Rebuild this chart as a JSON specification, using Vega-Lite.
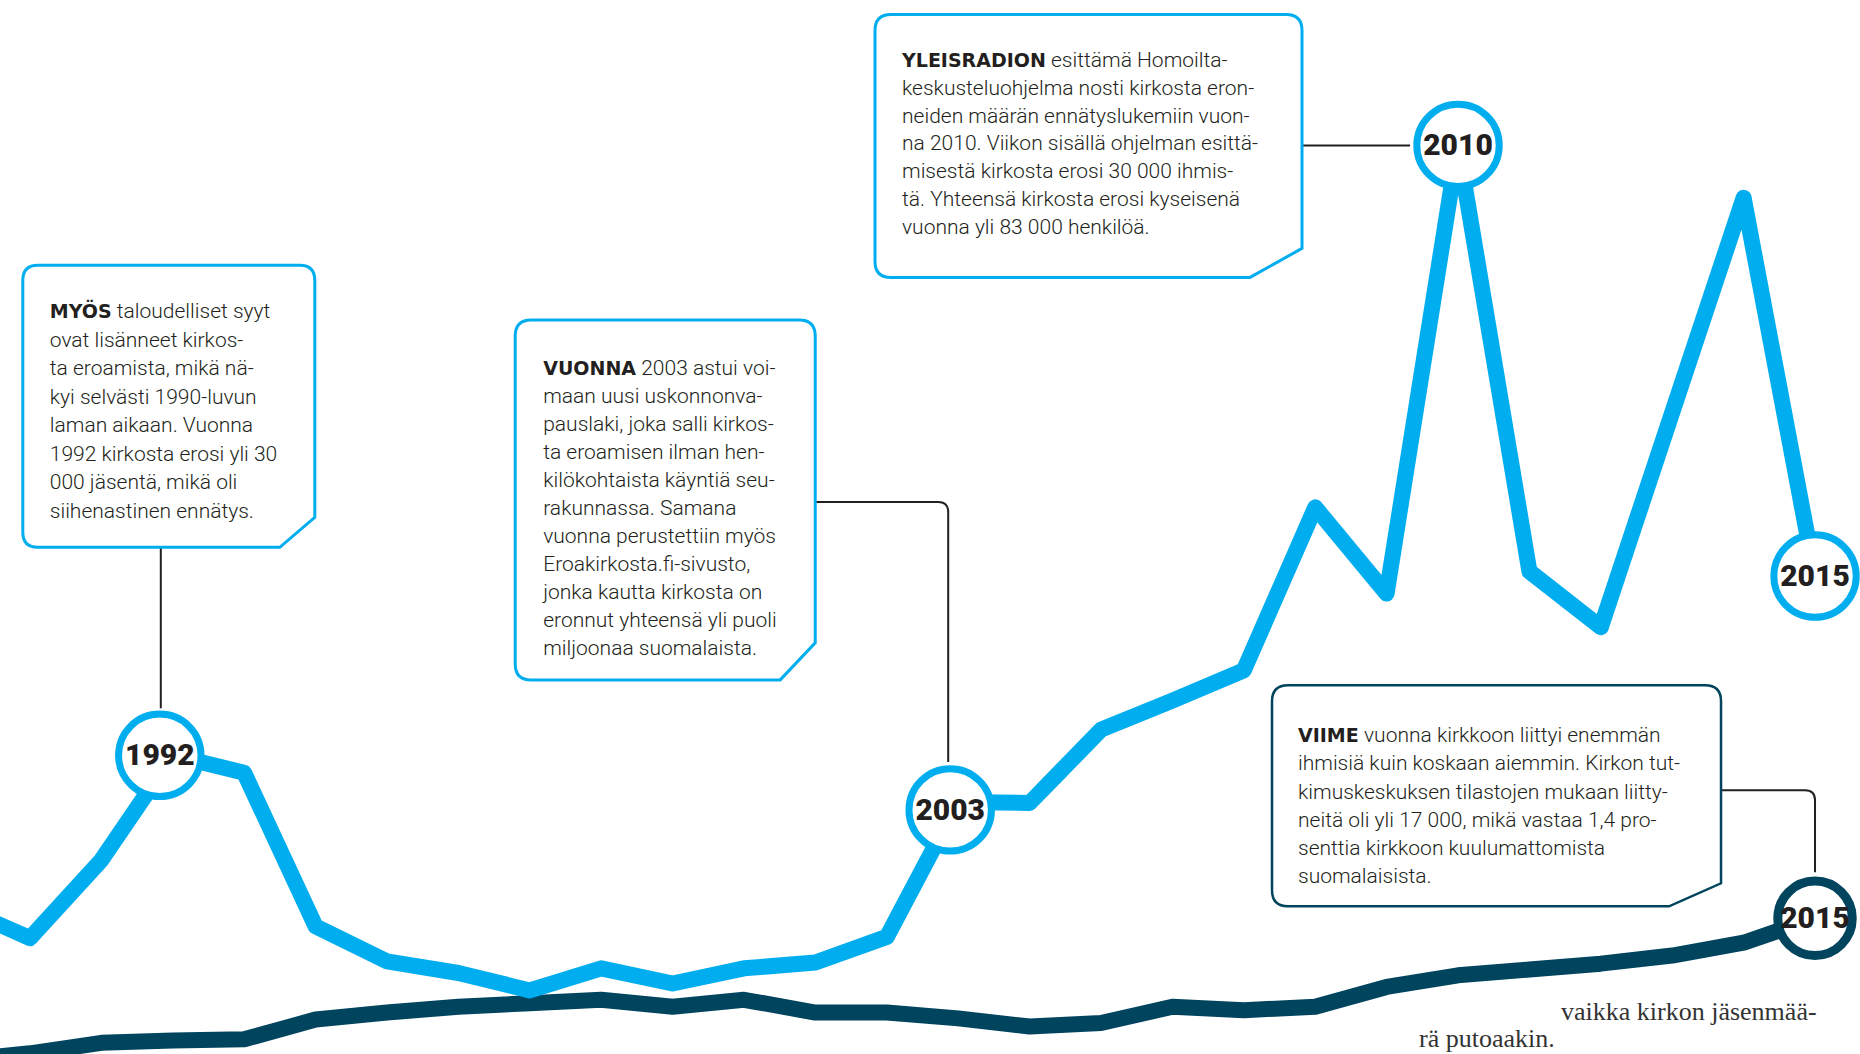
{
  "$schema": "https://vega.github.io/schema/vega-lite/v6.json",
  "width": 1860,
  "height": 1054,
  "autosize": {"type": "none"},
  "padding": 0,
  "background": "white",
  "config": {"view": {"stroke": null}},
  "datasets": {
    "resign": [
      {"year": 1989, "value": 17900}, {"year": 1990, "value": 15200}, {"year": 1991, "value": 21900},
      {"year": 1992, "value": 30900}, {"year": 1993, "value": 29400}, {"year": 1994, "value": 16200},
      {"year": 1995, "value": 13200}, {"year": 1996, "value": 12200}, {"year": 1997, "value": 10700},
      {"year": 1998, "value": 12600}, {"year": 1999, "value": 11300}, {"year": 2000, "value": 12600},
      {"year": 2001, "value": 13100}, {"year": 2002, "value": 15300}, {"year": 2003, "value": 26900},
      {"year": 2004, "value": 26800}, {"year": 2005, "value": 33100}, {"year": 2006, "value": 35600},
      {"year": 2007, "value": 38200}, {"year": 2008, "value": 52200}, {"year": 2009, "value": 44800},
      {"year": 2010, "value": 83300}, {"year": 2011, "value": 46700}, {"year": 2012, "value": 41900},
      {"year": 2014, "value": 78800}, {"year": 2015, "value": 46300}
    ],
    "joined": [
      {"year": 1989, "value": 4700}, {"year": 1990, "value": 5300}, {"year": 1991, "value": 6200},
      {"year": 1992, "value": 6400}, {"year": 1993, "value": 6500}, {"year": 1994, "value": 8200},
      {"year": 1995, "value": 8800}, {"year": 1996, "value": 9300}, {"year": 1997, "value": 9600},
      {"year": 1998, "value": 9900}, {"year": 1999, "value": 9300}, {"year": 2000, "value": 9900},
      {"year": 2001, "value": 8800}, {"year": 2002, "value": 8800}, {"year": 2003, "value": 8300},
      {"year": 2004, "value": 7600}, {"year": 2005, "value": 7900}, {"year": 2006, "value": 9300},
      {"year": 2007, "value": 9000}, {"year": 2008, "value": 9300}, {"year": 2009, "value": 11000},
      {"year": 2010, "value": 12000}, {"year": 2011, "value": 12500}, {"year": 2012, "value": 13000},
      {"year": 2013, "value": 13700}, {"year": 2014, "value": 14800}, {"year": 2015, "value": 16900}
    ],
    "notes": [
      {"id": "n1", "year": 1992, "value": 30900, "lead": "MYÖS", "first": "taloudelliset syyt",
       "body": "ovat lisänneet kirkos-\nta eroamista, mikä nä-\nkyi selvästi 1990-luvun\nlaman aikaan. Vuonna\n1992 kirkosta erosi yli 30\n000 jäsentä, mikä oli\nsiihenastinen ennätys."},
      {"id": "n2", "year": 2003, "value": 26900, "lead": "VUONNA", "first": "2003 astui voi-",
       "body": "maan uusi uskonnonva-\npauslaki, joka salli kirkos-\nta eroamisen ilman hen-\nkilökohtaista käyntiä seu-\nrakunnassa. Samana\nvuonna perustettiin myös\nEroakirkosta.fi-sivusto,\njonka kautta kirkosta on\neronnut yhteensä yli puoli\nmiljoonaa suomalaista."},
      {"id": "n3", "year": 2010, "value": 83300, "lead": "YLEISRADION", "first": "esittämä Homoilta-",
       "body": "keskusteluohjelma nosti kirkosta eron-\nneiden määrän ennätyslukemiin vuon-\nna 2010. Viikon sisällä ohjelman esittä-\nmisestä kirkosta erosi 30 000 ihmis-\ntä. Yhteensä kirkosta erosi kyseisenä\nvuonna yli 83 000 henkilöä."},
      {"id": "n4", "year": 2015, "value": 16900, "lead": "VIIME", "first": "vuonna kirkkoon liittyi enemmän",
       "body": "ihmisiä kuin koskaan aiemmin. Kirkon tut-\nkimuskeskuksen tilastojen mukaan liitty-\nneitä oli yli 17 000, mikä vastaa 1,4 pro-\nsenttia kirkkoon kuulumattomista\nsuomalaisista."},
      {"id": "n5", "year": 2015, "value": 16900, "lead": "", "first": "vaikka kirkon jäsenmää-", "body": "rä putoaakin."}
    ]
  },
  "encoding": {
    "x": {"field": "year", "type": "quantitative", "scale": {"domain": [1989.58, 2015.63], "nice": false, "zero": false}, "axis": null},
    "y": {"field": "value", "type": "quantitative", "scale": {"domain": [5240, 95790], "nice": false, "zero": false}, "axis": null}
  },
  "layer": [
    {"data": {"name": "joined"}, "mark": {"type": "line", "stroke": "#01445E", "strokeWidth": 16, "strokeJoin": "round", "clip": true}, "encoding": {}},
    {"data": {"name": "resign"}, "mark": {"type": "line", "stroke": "#00AEEF", "strokeWidth": 16, "strokeJoin": "round", "clip": true}, "encoding": {}},

    {"data": {"name": "notes"}, "transform": [{"filter": "datum.id === 'n1'"}],
     "mark": {"type": "point", "shape": "M -0.12 -2.08 L -0.12 -0.47", "size": 40000, "filled": false, "stroke": "#231F20", "strokeWidth": 2, "opacity": 1}},
    {"data": {"name": "notes"}, "transform": [{"filter": "datum.id === 'n2'"}],
     "mark": {"type": "point", "shape": "M -1.43 -3 L -0.2 -3 Q -0.1 -3 -0.1 -2.9 L -0.1 -0.4", "size": 40000, "filled": false, "stroke": "#231F20", "strokeWidth": 2, "opacity": 1}},
    {"data": {"name": "notes"}, "transform": [{"filter": "datum.id === 'n3'"}],
     "mark": {"type": "point", "shape": "M -1.56 0 L -0.48 0", "size": 40000, "filled": false, "stroke": "#231F20", "strokeWidth": 2, "opacity": 1}},
    {"data": {"name": "notes"}, "transform": [{"filter": "datum.id === 'n4'"}],
     "mark": {"type": "point", "shape": "M -0.94 -1.28 L -0.1 -1.28 Q 0 -1.28 0 -1.18 L 0 -0.46", "size": 40000, "filled": false, "stroke": "#231F20", "strokeWidth": 2, "opacity": 1}},

    {"data": {"name": "notes"}, "transform": [{"filter": "datum.id === 'n1'"}],
     "mark": {"type": "point", "shape": "M -1.35 -4.9 L 1.27 -4.9 Q 1.42 -4.9 1.42 -4.75 L 1.42 -2.38 L 1.07 -2.08 L -1.35 -2.08 Q -1.5 -2.08 -1.5 -2.23 L -1.5 -4.75 Q -1.5 -4.9 -1.35 -4.9 Z", "size": 40000, "filled": true, "fill": "white", "stroke": "#00AEEF", "strokeWidth": 3, "opacity": 1}},
    {"data": {"name": "notes"}, "transform": [{"filter": "datum.id === 'n2'"}],
     "mark": {"type": "point", "shape": "M -4.27 -4.82 L -1.59 -4.82 Q -1.43 -4.82 -1.43 -4.66 L -1.43 -1.59 L -1.78 -1.22 L -4.27 -1.22 Q -4.43 -1.22 -4.43 -1.38 L -4.43 -4.66 Q -4.43 -4.82 -4.27 -4.82 Z", "size": 40000, "filled": true, "fill": "white", "stroke": "#00AEEF", "strokeWidth": 3, "opacity": 1}},
    {"data": {"name": "notes"}, "transform": [{"filter": "datum.id === 'n3'"}],
     "mark": {"type": "point", "shape": "M -5.67 -1.31 L -1.72 -1.31 Q -1.56 -1.31 -1.56 -1.15 L -1.56 1.03 L -2.08 1.32 L -5.67 1.32 Q -5.83 1.32 -5.83 1.16 L -5.83 -1.15 Q -5.83 -1.31 -5.67 -1.31 Z", "size": 40000, "filled": true, "fill": "white", "stroke": "#00AEEF", "strokeWidth": 3, "opacity": 1}},
    {"data": {"name": "notes"}, "transform": [{"filter": "datum.id === 'n4'"}],
     "mark": {"type": "point", "shape": "M -5.27 -2.33 L -1.1 -2.33 Q -0.94 -2.33 -0.94 -2.17 L -0.94 -0.35 L -1.46 -0.12 L -5.27 -0.12 Q -5.43 -0.12 -5.43 -0.28 L -5.43 -2.17 Q -5.43 -2.33 -5.27 -2.33 Z", "size": 40000, "filled": true, "fill": "white", "stroke": "#01445E", "strokeWidth": 2.5, "opacity": 1}},

    {"data": {"name": "notes"}, "transform": [{"filter": "datum.id === 'n1'"}],
     "mark": {"type": "text", "align": "left", "baseline": "alphabetic", "dx": -123, "dy": -437, "font": "DejaVu Sans", "fontWeight": "bold", "fontSize": 19, "fill": "#231F20"},
     "encoding": {"text": {"field": "lead", "type": "nominal"}}},
    {"data": {"name": "notes"}, "transform": [{"filter": "datum.id === 'n1'"}],
     "mark": {"type": "text", "align": "left", "baseline": "alphabetic", "dx": -56, "dy": -437, "font": "Roboto", "fontWeight": 300, "fontSize": 21, "fill": "#231F20"},
     "encoding": {"text": {"field": "first", "type": "nominal"}}},
    {"data": {"name": "notes"}, "transform": [{"filter": "datum.id === 'n1'"}],
     "mark": {"type": "text", "align": "left", "baseline": "alphabetic", "dx": -123, "dy": -408.5, "lineBreak": "\n", "lineHeight": 28.5, "font": "Roboto", "fontWeight": 300, "fontSize": 21, "fill": "#231F20"},
     "encoding": {"text": {"field": "body", "type": "nominal"}}},

    {"data": {"name": "notes"}, "transform": [{"filter": "datum.id === 'n2'"}],
     "mark": {"type": "text", "align": "left", "baseline": "alphabetic", "dx": -415, "dy": -427, "font": "DejaVu Sans", "fontWeight": "bold", "fontSize": 19, "fill": "#231F20"},
     "encoding": {"text": {"field": "lead", "type": "nominal"}}},
    {"data": {"name": "notes"}, "transform": [{"filter": "datum.id === 'n2'"}],
     "mark": {"type": "text", "align": "left", "baseline": "alphabetic", "dx": -317, "dy": -427, "font": "Roboto", "fontWeight": 300, "fontSize": 21, "fill": "#231F20"},
     "encoding": {"text": {"field": "first", "type": "nominal"}}},
    {"data": {"name": "notes"}, "transform": [{"filter": "datum.id === 'n2'"}],
     "mark": {"type": "text", "align": "left", "baseline": "alphabetic", "dx": -415, "dy": -399, "lineBreak": "\n", "lineHeight": 28, "font": "Roboto", "fontWeight": 300, "fontSize": 21, "fill": "#231F20"},
     "encoding": {"text": {"field": "body", "type": "nominal"}}},

    {"data": {"name": "notes"}, "transform": [{"filter": "datum.id === 'n3'"}],
     "mark": {"type": "text", "align": "left", "baseline": "alphabetic", "dx": -556, "dy": -78, "font": "DejaVu Sans", "fontWeight": "bold", "fontSize": 19, "fill": "#231F20"},
     "encoding": {"text": {"field": "lead", "type": "nominal"}}},
    {"data": {"name": "notes"}, "transform": [{"filter": "datum.id === 'n3'"}],
     "mark": {"type": "text", "align": "left", "baseline": "alphabetic", "dx": -407, "dy": -78, "font": "Roboto", "fontWeight": 300, "fontSize": 21, "fill": "#231F20"},
     "encoding": {"text": {"field": "first", "type": "nominal"}}},
    {"data": {"name": "notes"}, "transform": [{"filter": "datum.id === 'n3'"}],
     "mark": {"type": "text", "align": "left", "baseline": "alphabetic", "dx": -556, "dy": -50.3, "lineBreak": "\n", "lineHeight": 27.7, "font": "Roboto", "fontWeight": 300, "fontSize": 21, "fill": "#231F20"},
     "encoding": {"text": {"field": "body", "type": "nominal"}}},

    {"data": {"name": "notes"}, "transform": [{"filter": "datum.id === 'n4'"}],
     "mark": {"type": "text", "align": "left", "baseline": "alphabetic", "dx": -517, "dy": -176, "font": "DejaVu Sans", "fontWeight": "bold", "fontSize": 19, "fill": "#231F20"},
     "encoding": {"text": {"field": "lead", "type": "nominal"}}},
    {"data": {"name": "notes"}, "transform": [{"filter": "datum.id === 'n4'"}],
     "mark": {"type": "text", "align": "left", "baseline": "alphabetic", "dx": -451, "dy": -176, "font": "Roboto", "fontWeight": 300, "fontSize": 21, "fill": "#231F20"},
     "encoding": {"text": {"field": "first", "type": "nominal"}}},
    {"data": {"name": "notes"}, "transform": [{"filter": "datum.id === 'n4'"}],
     "mark": {"type": "text", "align": "left", "baseline": "alphabetic", "dx": -517, "dy": -147.8, "lineBreak": "\n", "lineHeight": 28.2, "font": "Roboto", "fontWeight": 300, "fontSize": 21, "fill": "#231F20"},
     "encoding": {"text": {"field": "body", "type": "nominal"}}},

    {"data": {"name": "notes"}, "transform": [{"filter": "datum.id === 'n5'"}],
     "mark": {"type": "text", "align": "left", "baseline": "alphabetic", "dx": -254, "dy": 102, "font": "Liberation Serif", "fontSize": 26, "fill": "#333333"},
     "encoding": {"text": {"field": "first", "type": "nominal"}}},
    {"data": {"name": "notes"}, "transform": [{"filter": "datum.id === 'n5'"}],
     "mark": {"type": "text", "align": "left", "baseline": "alphabetic", "dx": -396, "dy": 129, "font": "Liberation Serif", "fontSize": 26, "fill": "#333333"},
     "encoding": {"text": {"field": "body", "type": "nominal"}}},

    {"data": {"name": "resign"}, "transform": [{"filter": "datum.year === 1992"}],
     "mark": {"type": "point", "shape": "circle", "size": 6793, "filled": true, "fill": "white", "stroke": "#00AEEF", "strokeWidth": 7, "opacity": 1, "xOffset": -13}},
    {"data": {"name": "resign"}, "transform": [{"filter": "datum.year === 1992"}],
     "mark": {"type": "text", "align": "center", "baseline": "middle", "dy": 1, "dx": -13, "font": "Roboto", "fontWeight": 900, "fontSize": 30, "fill": "#231F20"},
     "encoding": {"text": {"field": "year", "type": "nominal"}}},
    {"data": {"name": "resign"}, "transform": [{"filter": "datum.year === 2003"}],
     "mark": {"type": "point", "shape": "circle", "size": 6793, "filled": true, "fill": "white", "stroke": "#00AEEF", "strokeWidth": 7, "opacity": 1, "xOffset": -8, "yOffset": 8}},
    {"data": {"name": "resign"}, "transform": [{"filter": "datum.year === 2003"}],
     "mark": {"type": "text", "align": "center", "baseline": "middle", "dy": 9, "dx": -8, "font": "Roboto", "fontWeight": 900, "fontSize": 30, "fill": "#231F20"},
     "encoding": {"text": {"field": "year", "type": "nominal"}}},
    {"data": {"name": "resign"}, "transform": [{"filter": "datum.year === 2010 || datum.year === 2015"}],
     "mark": {"type": "point", "shape": "circle", "size": 6793, "filled": true, "fill": "white", "stroke": "#00AEEF", "strokeWidth": 7, "opacity": 1}},
    {"data": {"name": "resign"}, "transform": [{"filter": "datum.year === 2010 || datum.year === 2015"}],
     "mark": {"type": "text", "align": "center", "baseline": "middle", "dy": 1, "font": "Roboto", "fontWeight": 900, "fontSize": 30, "fill": "#231F20"},
     "encoding": {"text": {"field": "year", "type": "nominal"}}},
    {"data": {"name": "joined"}, "transform": [{"filter": "datum.year === 2015"}],
     "mark": {"type": "point", "shape": "circle", "size": 5542, "filled": true, "fill": "white", "stroke": "#01445E", "strokeWidth": 9, "opacity": 1}},
    {"data": {"name": "joined"}, "transform": [{"filter": "datum.year === 2015"}],
     "mark": {"type": "text", "align": "center", "baseline": "middle", "dy": 1, "font": "Roboto", "fontWeight": 900, "fontSize": 30, "fill": "#231F20"},
     "encoding": {"text": {"field": "year", "type": "nominal"}}}
  ]
}
